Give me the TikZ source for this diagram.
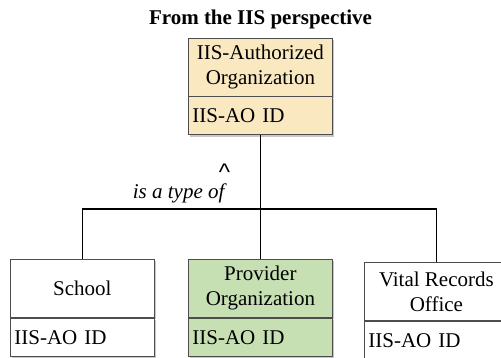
\documentclass[tikz,border=0pt]{standalone}
\usepackage{fontspec}
\setmainfont{Liberation Serif}
\newfontfamily\caretfont{Liberation Sans}
\usetikzlibrary{shadows}
\definecolor{aofill}{HTML}{F9E8C0}
\definecolor{provfill}{HTML}{C6E0B4}
\definecolor{boxline}{HTML}{4D4D4D}
\begin{document}
\begin{tikzpicture}[x=1pt,y=1pt,
  txt/.style={font=\fontsize{21}{25}\selectfont},
  box/.style={draw=boxline, line width=0.8pt, inner sep=0pt, minimum width=144pt,
    anchor=north west, txt,
    drop shadow={shadow xshift=2pt,shadow yshift=-2pt,fill=black!22,opacity=1}},
  namebox/.style={box, minimum height=58pt, align=center},
  attrbox/.style={box, minimum height=38pt, text width=136pt, inner xsep=4pt, align=left},
  link/.style={draw=black, line width=1.4pt}
]
\clip (0,0) rectangle (501,-357);

% title
\node[anchor=base, font=\fontsize{21}{25}\selectfont\bfseries] (title) at (260.5,-24) {From the IIS perspective};

% parent class
\node[namebox, fill=aofill] (ao) at (188,-37.5) {IIS-Authorized\\Organization};
\node[attrbox, fill=aofill] (aoattr) at (ao.south west) {IIS-AO ID};

% subclasses
\node[namebox, fill=white] (school) at (10,-259) {School};
\node[attrbox, fill=white] (schoolattr) at (school.south west) {IIS-AO ID};

\node[namebox, fill=provfill] (prov) at (188,-259) {Provider\\Organization};
\node[attrbox, fill=provfill] (provattr) at (prov.south west) {IIS-AO ID};

\node[namebox, fill=white] (vital) at (364,-262) {Vital Records\\Office};
\node[attrbox, fill=white] (vitalattr) at (vital.south west) {IIS-AO ID};

% generalization connectors
\coordinate (j) at (aoattr.south |- 0,-209);
\draw[link] (aoattr.south) -- (j);
\draw[link] (school.north) |- (j) -| (vital.north);
\draw[link] (prov.north) -- (prov.north |- j);

% relation label
\node[anchor=base, font=\caretfont\fontsize{24}{24}\selectfont] (caret) at (224.5,-180) {\textasciicircum};
\node[anchor=base east, txt, font=\fontsize{21}{25}\selectfont\itshape] (rel) at (228,-198) {is a type of};
\end{tikzpicture}
\end{document}
